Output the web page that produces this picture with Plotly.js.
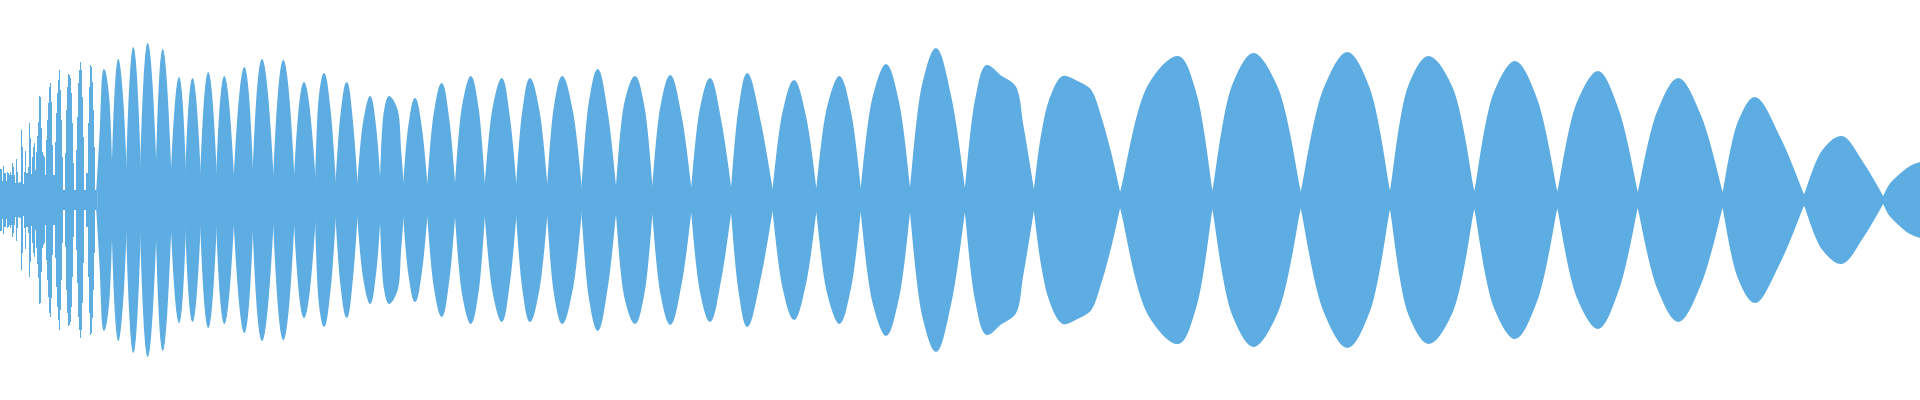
<!DOCTYPE html>
<html>
<head>
<meta charset="utf-8">
<script src="https://cdn.plot.ly/plotly-3.0.1.min.js"></script>
<style>
  html, body { margin: 0; padding: 0; background: #ffffff; }
  #chart { width: 1920px; height: 400px; }
</style>
</head>
<body>
<div id="chart"></div>
<script>
// ---- Data (time in pixel-columns, amplitude in units where full scale = 200) ----

// Attack section: one envelope value per column, t = 0 .. 96
const attackA = [31, 31, 19, 34, 27, 27, 19, 28, 27, 25, 28, 25, 37, 33, 25, 17, 41, 28, 17, 18,
                 18, 70, 53, 16, 28, 49, 27, 27, 33, 77, 62, 26, 43, 53, 57, 30, 48, 64, 78, 104,
                 103, 72, 48, 45, 43, 25, 60, 80, 97, 113, 117, 98, 55, 25, 25, 58, 87, 107, 120, 130,
                 110, 80, 43, 10, 10, 47, 90, 113, 126, 125, 122, 107, 77, 37, 10, 10, 50, 83, 117, 130,
                 138, 130, 103, 63, 10, 10, 27, 27, 77, 113, 135, 133, 118, 90, 53, 10, 10];

// Beat nodes (envelope minima)
const nodeT = [97.2, 112, 126.5, 140.5, 156.3, 171, 185.5, 200.5, 216.5, 233.8,
               252.8, 273.5, 294.2, 315.5, 335.7, 357.3, 380.3, 403.3, 427.3, 455,
               484.7, 516.3, 547.3, 581.7, 616, 652.3, 691.3, 731.3, 772.7, 816.3,
               860.7, 910, 965, 1034, 1120, 1212.3, 1300.7, 1390, 1474.3, 1557.3,
               1637.7, 1722.7, 1804, 1883.3];
const nodeA = [9, 8, 8, 8, 8, 8, 7, 7, 7, 7,
               7, 7, 7, 6, 6, 6, 6, 6, 6, 6,
               6, 6, 6, 5, 5, 5, 5, 5, 5, 5,
               5, 5, 5, 4, 4, 4, 4, 4, 4, 4,
               4, 4, 3, 2];

// Beat peaks (envelope maxima), one per lobe; the last one is the right edge
const peakT = [104, 118.3, 133.3, 147.7, 162.7, 179, 192.5, 208.2, 224.3, 244.3,
               262, 283.3, 304, 324, 346.7, 370, 389, 415, 441.7, 470.7,
               501.7, 530, 562.3, 597.7, 635, 670.3, 710, 747.3, 794, 839.3,
               886, 936, 986.7, 1063, 1178.3, 1253.3, 1347.3, 1428.3, 1515, 1598,
               1678.3, 1755, 1841.7, 1920];
const peakA = [130, 140, 152, 156, 150, 122, 121, 127, 123, 132,
               140, 139, 117, 126, 117, 103, 103, 101, 116, 123,
               121, 121, 123, 130, 123, 124, 121, 126, 119, 123,
               135, 151, 134, 123, 143, 146, 147, 143, 138, 128,
               121, 102, 63, 37];

// Envelope read halfway up each flank (rise: node->peak, fall: peak->next node); null = not read
const riseA = [67, 100, null, null, null, null, null, null, null, null,
               null, null, null, 103, 83, 75, 87, 73, 85, 93,
               90, 88, 93, 97, 98, 93, 90, 90, 87, 92,
               102, 115, null, null, 115, 114, 110, 114, 107, 97,
               88, 78, 49, null];
const fallA = [105, 98, null, null, null, null, null, null, null, null,
               null, null, null, 87, 78, 73, null, 70, 80, 91,
               82, 88, 88, 87, 92, 83, 77, 77, 83, 88,
               98, 102, null, null, 107, 112, 112, 113, 101, 90,
               83, 62, 37, null];

// Extra envelope readings (shoulders, irregular lobes)
const extraLobe = [16, 16, 32, 32, 32, 32, 33, 33, 33, 33, 33, 33, 43, 43, 43];
const extraT    = [396.7, 400, 976, 1000, 1015, 1022, 1041.7, 1050, 1077, 1090, 1100, 1110, 1890, 1900, 1910];
const extraA    = [90, 52, 100, 124, 113, 77, 63, 100, 118, 110, 84, 48, 15, 25, 33];

// ---- Build traces ----
const COLOR = '#5DADE2';

const attackTx = attackA.map((_, i) => i).concat([nodeT[0]]);
const attackUp = attackA.concat([attackA[attackA.length - 1]]);

// Two groups of lobes: with several readings (smoothed through them, with a short
// guide at each node so the beat pinches to a point) and with peak only.
const multiX = [], multiY = [], simpleX = [], simpleY = [];
const GUIDE = 0.08;  // fraction of the first/last flank used as a tangent guide at nodes
for (let k = 0; k < peakT.length; k++) {
  const hasNext = k + 1 < nodeT.length;
  const pts = [[peakT[k], peakA[k]]];
  if (riseA[k] !== null) pts.push([(nodeT[k] + peakT[k]) / 2, riseA[k]]);
  if (hasNext && fallA[k] !== null) pts.push([(peakT[k] + nodeT[k + 1]) / 2, fallA[k]]);
  for (let j = 0; j < extraLobe.length; j++) {
    if (extraLobe[j] === k) pts.push([extraT[j], extraA[j]]);
  }
  pts.sort((a, b) => a[0] - b[0]);
  const n0 = [nodeT[k], nodeA[k]];
  const n1 = hasNext ? [nodeT[k + 1], nodeA[k + 1]] : null;
  let seq;
  if (pts.length === 1) {
    seq = [n0, pts[0]];
    if (n1) seq.push(n1);
    seq.forEach(p => { simpleX.push(p[0]); simpleY.push(p[1]); });
    simpleX.push(null); simpleY.push(null);
  } else {
    const first = pts[0], last = pts[pts.length - 1];
    const g0 = [n0[0] + GUIDE * (first[0] - n0[0]), n0[1] + GUIDE * (first[1] - n0[1])];
    seq = [n0, g0].concat(pts);
    if (n1) {
      const g1 = [n1[0] + GUIDE * (last[0] - n1[0]), n1[1] + GUIDE * (last[1] - n1[1])];
      seq.push(g1, n1);
    }
    seq.forEach(p => { multiX.push(p[0]); multiY.push(p[1]); });
    multiX.push(null); multiY.push(null);
  }
}
const neg = a => a.map(v => (v === null ? null : -v));

const base = { type: 'scatter', mode: 'lines', fill: 'tozeroy', fillcolor: COLOR,
               hoverinfo: 'skip', showlegend: false, connectgaps: false };
const stepLine = { color: COLOR, width: 0, shape: 'hv' };
const multiLine = { color: COLOR, width: 2, shape: 'spline', smoothing: 1 };
const simpleLine = { color: COLOR, width: 2, shape: 'spline', smoothing: 1.3 };

const traces = [
  Object.assign({}, base, { x: attackTx, y: attackUp, line: stepLine }),
  Object.assign({}, base, { x: attackTx, y: neg(attackUp), line: stepLine }),
  Object.assign({}, base, { x: simpleX, y: simpleY, line: simpleLine }),
  Object.assign({}, base, { x: simpleX, y: neg(simpleY), line: simpleLine }),
  Object.assign({}, base, { x: multiX, y: multiY, line: multiLine }),
  Object.assign({}, base, { x: multiX, y: neg(multiY), line: multiLine })
];

const layout = {
  width: 1920, height: 400,
  margin: { l: 0, r: 0, t: 0, b: 0, pad: 0 },
  paper_bgcolor: '#ffffff', plot_bgcolor: '#ffffff',
  xaxis: { range: [0, 1920], visible: false, fixedrange: true },
  yaxis: { range: [-200, 200], visible: false, fixedrange: true },
  showlegend: false
};

Plotly.newPlot('chart', traces, layout, { staticPlot: true, displayModeBar: false });
</script>
</body>
</html>
